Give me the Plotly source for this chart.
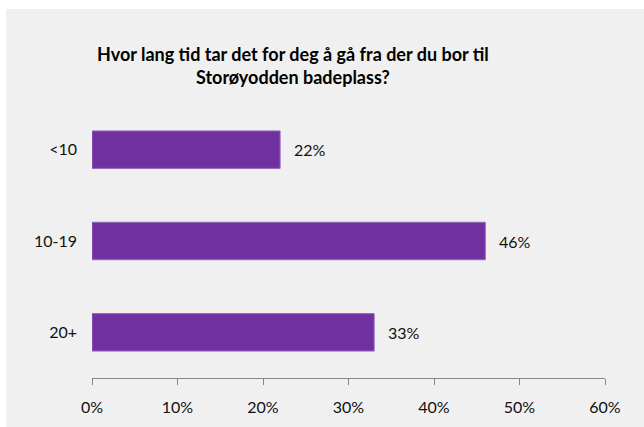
import plotly.graph_objects as go

# Survey answers: walking time (minutes) to the beach
categories = ["<10", "10-19", "20+"]
shares = [22, 46, 33]
tick_values = [0, 10, 20, 30, 40, 50, 60]
tick_labels = ["0%", "10%", "20%", "30%", "40%", "50%", "60%"]

title_text = ("Hvor lang tid tar det for deg å gå fra der du bor til<br>"
              "Storøyodden badeplass?")

FONT = "Lato, 'Open Sans', Arial, sans-serif"
PURPLE = "#7030a0"

fig = go.Figure()
fig.add_trace(go.Bar(
    x=shares,
    y=categories,
    orientation="h",
    marker=dict(color=PURPLE, line=dict(color="#9566bd", width=1)),
    hoverinfo="skip",
))

# value labels to the right of each bar
for cat, val in zip(categories, shares):
    fig.add_annotation(
        x=val, y=cat, text=f"{val}%", showarrow=False,
        xanchor="left", yanchor="middle", xshift=12,
        font=dict(family=FONT, size=16, color="#111111"),
    )

# thin white margin strips along the top and left edges
fig.add_shape(
    type="rect", xref="paper", yref="paper",
    x0=-0.3, x1=1.3, y0=1.3467, y1=1.5,
    fillcolor="#ffffff", line=dict(width=0), layer="below",
)
fig.add_shape(
    type="rect", xref="paper", yref="paper",
    x0=-0.3, x1=-0.1676, y0=-0.4, y1=1.5,
    fillcolor="#ffffff", line=dict(width=0), layer="below",
)

fig.add_annotation(
    xref="paper", yref="paper", x=0.392, y=1.142,
    text=f"<b>{title_text}</b>", showarrow=False,
    xanchor="center", yanchor="middle",
    font=dict(family=FONT, size=18, color="#000000"),
)

fig.update_layout(
    width=644, height=427,
    margin=dict(l=92, r=39, t=104, b=49),
    paper_bgcolor="#f0f0f0",
    plot_bgcolor="rgba(0,0,0,0)",
    bargap=0.59,
    showlegend=False,
    font=dict(family=FONT, size=16, color="#111111"),
)

fig.update_xaxes(
    range=[0, 60], tickvals=tick_values, ticktext=tick_labels,
    showgrid=False, zeroline=False,
    showline=True, linecolor="#868686", linewidth=1,
    ticks="outside", ticklen=6, tickcolor="#868686",
    ticklabelstandoff=9,
    tickfont=dict(family=FONT, size=16, color="#111111"),
    fixedrange=True,
)
fig.update_yaxes(
    categoryorder="array", categoryarray=categories[::-1],
    showgrid=False, zeroline=False, showline=False, ticks="",
    ticklabelstandoff=14,
    tickfont=dict(family=FONT, size=16, color="#111111"),
    fixedrange=True,
)

fig.write_html("out.html")
